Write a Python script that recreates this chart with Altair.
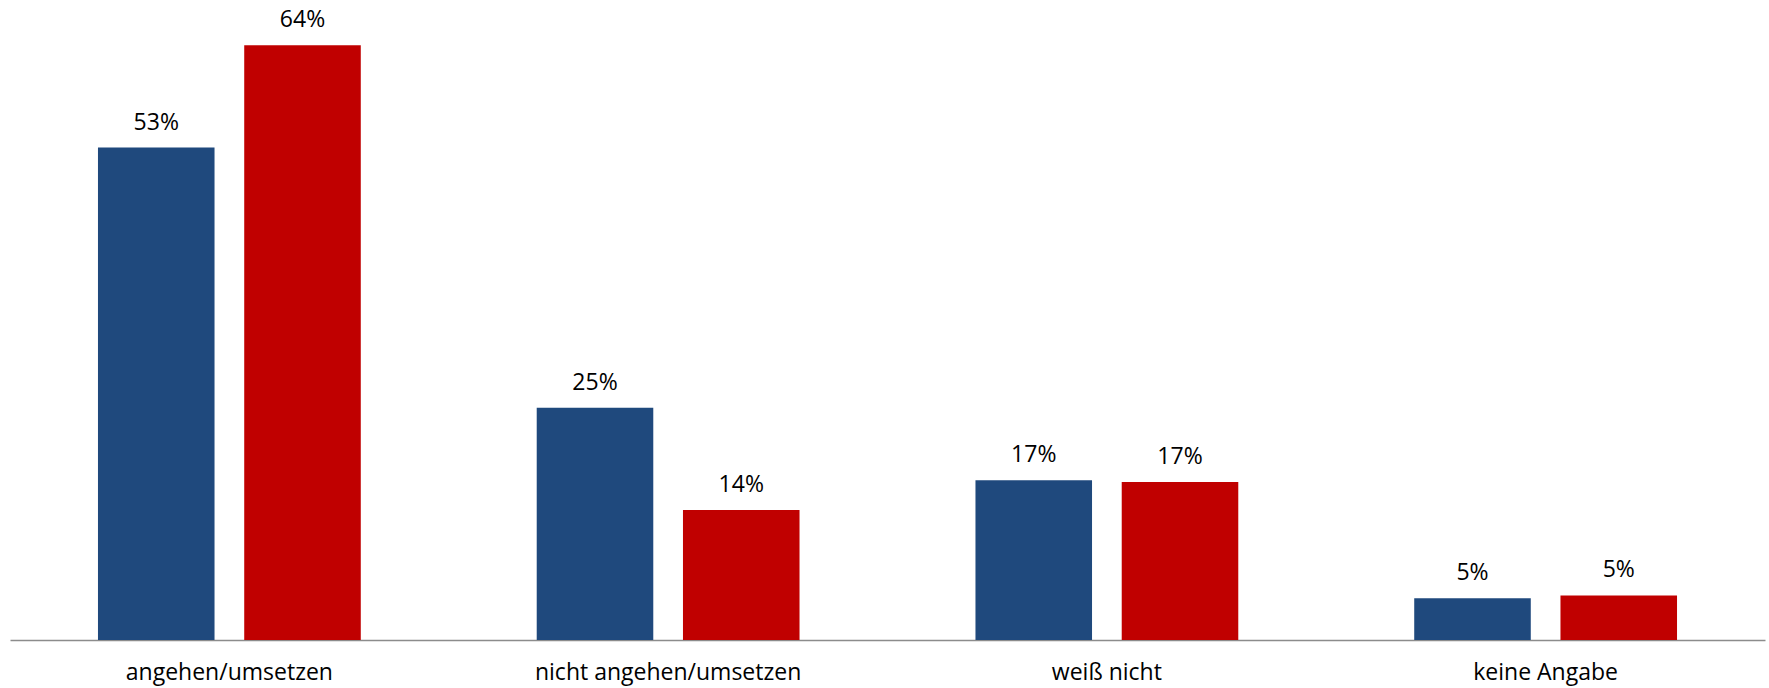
import altair as alt
import pandas as pd

categories = ["angehen/umsetzen", "nicht angehen/umsetzen", "weiß nicht", "keine Angabe"]
series = ["Reihe 1", "Reihe 2"]
values_blue = [53, 25, 17.2, 4.5]
values_red = [64, 14, 17, 4.8]
labels_blue = ["53%", "25%", "17%", "5%"]
labels_red = ["64%", "14%", "17%", "5%"]
colors = ["#1F497D", "#C00000"]

rows = []
for c, v, l in zip(categories, values_blue, labels_blue):
    rows.append({"cat": c, "series": series[0], "value": v, "label": l})
for c, v, l in zip(categories, values_red, labels_red):
    rows.append({"cat": c, "series": series[1], "value": v, "label": l})
df = pd.DataFrame(rows)

FONT = "Open Sans"

base = alt.Chart(df).encode(
    x=alt.X(
        "cat:N",
        sort=categories,
        scale=alt.Scale(paddingInner=0.401, paddingOuter=0.2005),
        axis=alt.Axis(
            title=None,
            labelAngle=0,
            ticks=False,
            tickSize=0,
            grid=False,
            domainColor="#8C8C8C",
            domainWidth=1.3,
            labelFont=FONT,
            labelFontSize=23,
            labelColor="#000000",
            labelPadding=39,
            labelBaseline="alphabetic",
            labelOverlap=False,
            labelLimit=600,
        ),
    ),
    xOffset=alt.XOffset("series:N", sort=series, scale=alt.Scale(paddingInner=0.203, paddingOuter=0)),
    y=alt.Y("value:Q", scale=alt.Scale(domain=[0, 68.88], nice=False, zero=True), axis=None),
)

bars = base.mark_bar().encode(
    color=alt.Color("series:N", scale=alt.Scale(domain=series, range=colors), legend=None)
)

text = base.mark_text(
    baseline="alphabetic", dy=-18, font=FONT, fontSize=23, color="#000000"
).encode(text="label:N")

chart = (
    (bars + text)
    .properties(
        width=1755,
        height=640,
        autosize=alt.AutoSizeParams(type="none"),
        padding={"left": 10, "top": 0, "right": 4, "bottom": 48},
    )
    .configure_view(stroke=None)
)

chart.save("out.html", embed_options={"renderer": "svg", "actions": False})
